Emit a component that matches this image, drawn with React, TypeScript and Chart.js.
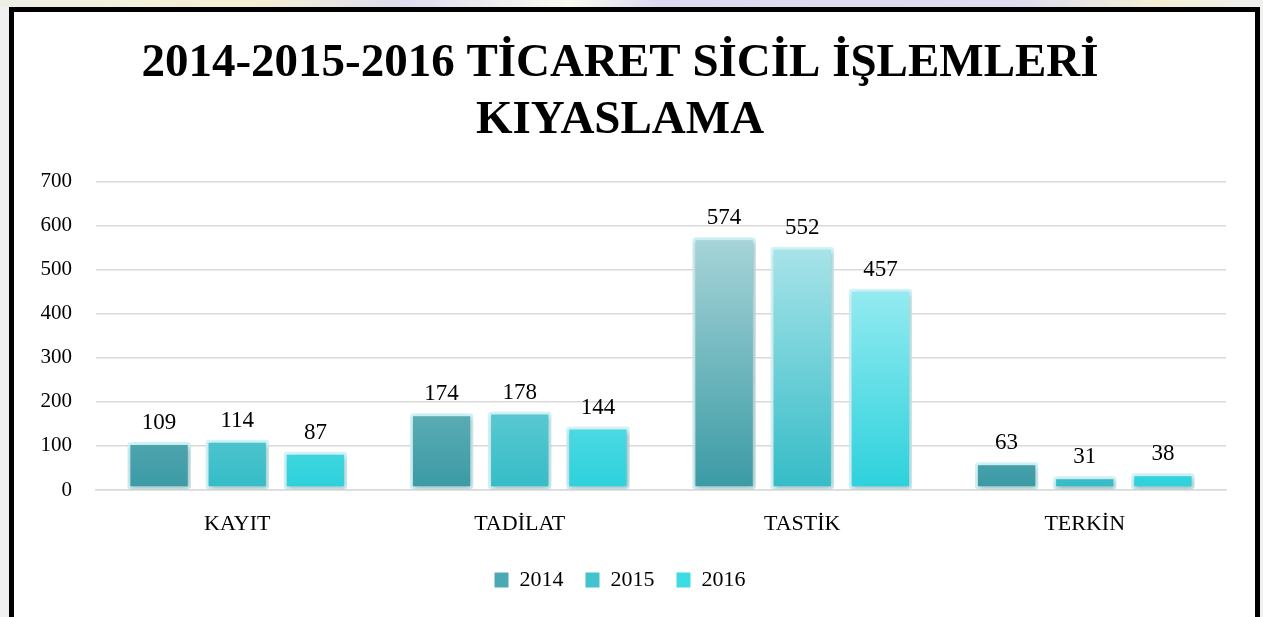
import React, { useEffect, useRef } from "react";
import { Chart, registerables } from "chart.js";

Chart.register(...registerables);

const categories = ["KAYIT", "TADİLAT", "TASTİK", "TERKİN"];
const seriesNames = ["2014", "2015", "2016"];
const values2014 = [109, 174, 574, 63];
const values2015 = [114, 178, 552, 31];
const values2016 = [87, 144, 457, 38];
const yTicks = [0, 100, 200, 300, 400, 500, 600, 700];
const titleLines = ["2014-2015-2016 TİCARET SİCİL İŞLEMLERİ", "KIYASLAMA"];

const FONT = "'Liberation Serif', 'DejaVu Serif', serif";

const palettes = [
  { bottom: "#3a9aa4", top: "#acd7db", mid: "#4aa9b2" },
  { bottom: "#34bcc7", top: "#b2e7ec", mid: "#43c3cd" },
  { bottom: "#2bd1dc", top: "#b6f3f7", mid: "#3ddbe4" },
];

function gradientFor(idx: number) {
  return (ctx: any) => {
    const chart = ctx.chart;
    const p = palettes[idx];
    if (!chart.chartArea || !chart.scales || !chart.scales.y) return p.mid;
    const y0 = chart.scales.y.getPixelForValue(0);
    const y1 = chart.scales.y.getPixelForValue(600);
    const g = chart.ctx.createLinearGradient(0, y0, 0, y1);
    g.addColorStop(0, p.bottom);
    g.addColorStop(1, p.top);
    return g;
  };
}

const shadowPlugin = {
  id: "barShadow",
  beforeDatasetsDraw(chart: any) {
    const c = chart.ctx;
    c.save();
    c.shadowColor = "rgba(0,0,0,0.28)";
    c.shadowBlur = 5;
    c.shadowOffsetX = 1;
    c.shadowOffsetY = 2;
  },
  afterDatasetsDraw(chart: any) {
    chart.ctx.restore();
  },
};

const valueLabelPlugin = {
  id: "valueLabels",
  afterDraw(chart: any) {
    const c = chart.ctx;
    c.save();
    c.font = `23px ${FONT}`;
    c.fillStyle = "#000";
    c.textAlign = "center";
    c.textBaseline = "alphabetic";
    chart.data.datasets.forEach((ds: any, di: number) => {
      const meta = chart.getDatasetMeta(di);
      meta.data.forEach((bar: any, i: number) => {
        c.fillText(String(ds.data[i]), bar.x, bar.y - 13);
      });
    });
    c.restore();
  },
};

export default function App() {
  const ref = useRef<HTMLCanvasElement | null>(null);

  useEffect(() => {
    if (!ref.current) return;
    const seriesValues = [values2014, values2015, values2016];
    const chart = new Chart(ref.current, {
      type: "bar",
      data: {
        labels: categories,
        datasets: seriesNames.map((name, i) => ({
          label: name,
          data: seriesValues[i],
          backgroundColor: gradientFor(i),
          borderColor: "rgba(205,246,250,0.95)",
          borderWidth: 3,
          borderRadius: 3,
          borderSkipped: false,
          categoryPercentage: 0.83,
          barPercentage: 0.81,
        })),
      },
      options: {
        animation: false,
        responsive: true,
        maintainAspectRatio: false,
        layout: { padding: { left: 0, right: 29, top: 0, bottom: 16 } },
        plugins: {
          tooltip: { enabled: false },
          title: {
            display: true,
            text: titleLines,
            color: "#000",
            font: { family: FONT, size: 47, weight: "bold", lineHeight: 1.22 },
            padding: { top: 23, bottom: 32 },
          },
          legend: {
            position: "bottom",
            labels: {
              color: "#000",
              font: { family: FONT, size: 22 },
              boxWidth: 14,
              boxHeight: 15,
              padding: 22,
              generateLabels: () =>
                seriesNames.map((n, i) => ({
                  text: n,
                  fillStyle: palettes[i].mid,
                  strokeStyle: "rgba(0,0,0,0)",
                  lineWidth: 0,
                  hidden: false,
                  datasetIndex: i,
                })),
            },
          },
        },
        scales: {
          x: {
            grid: { display: false, drawTicks: false },
            border: { display: true, color: "#d9d9d9", width: 1.5 },
            ticks: {
              color: "#000",
              font: { family: FONT, size: 22 },
              padding: 21,
            },
            afterFit: (s: any) => {
              s.height = 57;
            },
          },
          y: {
            min: 0,
            max: 700,
            afterBuildTicks: (s: any) => {
              s.ticks = yTicks.map((v) => ({ value: v }));
            },
            grid: { color: "#d9d9d9", lineWidth: 1.5, drawTicks: false },
            border: { display: false },
            ticks: {
              color: "#000",
              font: { family: FONT, size: 21 },
              padding: 24,
            },
            afterFit: (s: any) => {
              s.width = 82;
            },
          },
        },
      },
      plugins: [shadowPlugin, valueLabelPlugin],
    });
    return () => chart.destroy();
  }, []);

  return (
    <div style={{ position: "fixed", inset: 0, background: "#f1f1f1", overflow: "hidden" }}>
      <div
        style={{
          position: "absolute",
          left: 0,
          top: 0,
          width: "100%",
          height: 7,
          background: "linear-gradient(90deg, #efeee6 0%, #f6f1d2 20%, #dedcf0 32%, #fbfaf0 45%, #dcdaf0 52%, #dedcf0 80%, #f3efd6 92%, #efefef 100%)",
        }}
      />
      <div
        style={{
          position: "absolute",
          left: 9,
          top: 7,
          width: 1251,
          height: 620,
          boxSizing: "border-box",
          border: "5px solid #000",
          borderBottom: "none",
          background: "#fff",
        }}
      >
        <div style={{ position: "relative", width: 1241, height: 605 }}>
          <canvas ref={ref} />
        </div>
      </div>
    </div>
  );
}
